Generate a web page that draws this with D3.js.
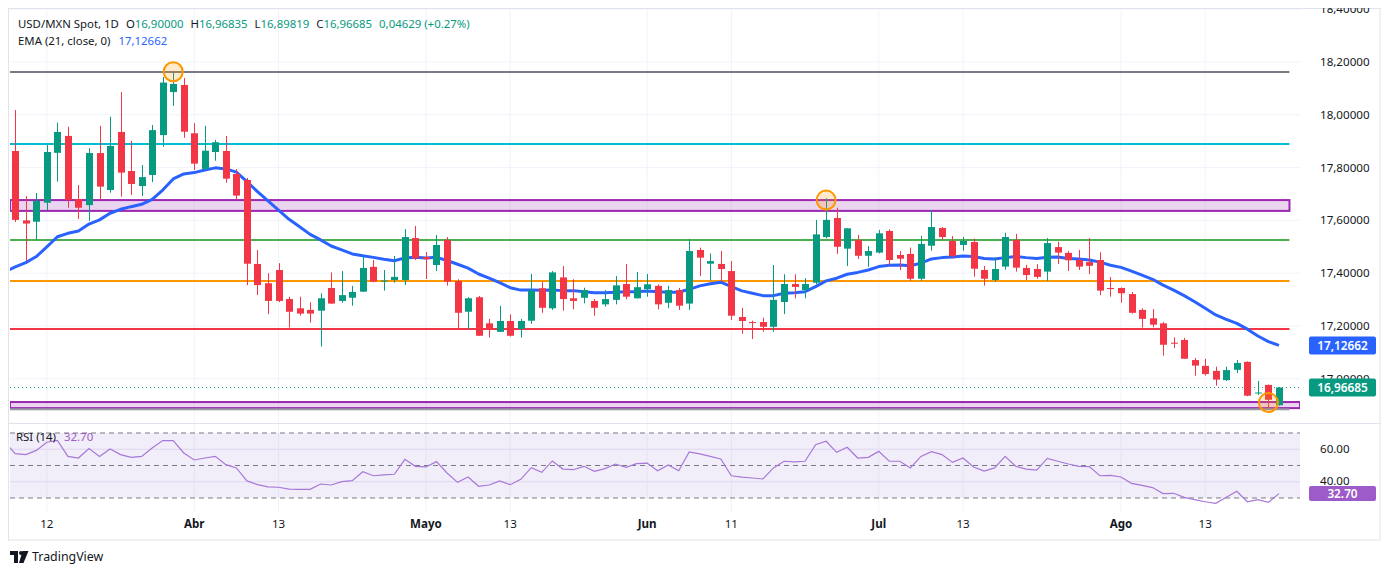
<!DOCTYPE html>
<html>
<head>
<meta charset="utf-8">
<script src="https://cdnjs.cloudflare.com/ajax/libs/d3/7.8.5/d3.min.js"></script>
<style>
  body { margin: 0; background: #fff; }
  svg { display: block; }
  text { font-family: "Noto Sans", sans-serif; }
</style>
</head>
<body>
<svg id="chart"></svg>
<script>
// Daily candles (bar index 0 .. 120)
const opens = [
  17.863, 17.600, 17.595, 17.667, 17.856, 17.920, 17.681, 17.658, 17.855, 17.715,
  17.935, 17.787, 17.730, 17.772, 17.923, 18.086, 18.113, 17.930, 17.795, 17.859,
  17.863, 17.776, 17.753, 17.435, 17.362, 17.412, 17.302, 17.267, 17.261, 17.258,
  17.344, 17.295, 17.307, 17.330, 17.424, 17.370, 17.374, 17.374, 17.533, 17.461,
  17.431, 17.526, 17.370, 17.254, 17.309, 17.210, 17.178, 17.219, 17.189, 17.220,
  17.343, 17.267, 17.384, 17.305, 17.307, 17.295, 17.282, 17.299, 17.359, 17.305,
  17.340, 17.352, 17.288, 17.336, 17.285, 17.488, 17.436, 17.435, 17.408, 17.234,
  17.215, 17.215, 17.197, 17.291, 17.359, 17.336, 17.364, 17.537, 17.609, 17.493,
  17.526, 17.466, 17.478, 17.560, 17.469, 17.473, 17.379, 17.504, 17.571, 17.522,
  17.507, 17.518, 17.412, 17.374, 17.425, 17.526, 17.420, 17.416, 17.406, 17.499,
  17.477, 17.450, 17.442, 17.450, 17.344, 17.344, 17.321, 17.261, 17.229, 17.210,
  17.137, 17.147, 17.071, 17.049, 17.030, 16.995, 17.034, 17.064, 16.945, 16.977,
  16.90000
];
const highs = [
  18.018, 17.692, 17.704, 17.886, 17.970, 17.955, 17.734, 17.873, 17.958, 17.993,
  18.086, 17.901, 17.810, 17.961, 18.143, 18.160, 18.139, 17.968, 17.958, 17.905,
  17.920, 17.794, 17.761, 17.488, 17.400, 17.438, 17.311, 17.311, 17.290, 17.324,
  17.403, 17.408, 17.352, 17.463, 17.450, 17.412, 17.465, 17.567, 17.579, 17.480,
  17.545, 17.537, 17.377, 17.309, 17.314, 17.227, 17.276, 17.244, 17.227, 17.397,
  17.368, 17.408, 17.427, 17.377, 17.345, 17.302, 17.336, 17.389, 17.435, 17.405,
  17.397, 17.358, 17.352, 17.344, 17.530, 17.497, 17.475, 17.484, 17.446, 17.269,
  17.220, 17.231, 17.431, 17.396, 17.396, 17.381, 17.602, 17.684, 17.648, 17.571,
  17.545, 17.503, 17.564, 17.566, 17.484, 17.497, 17.541, 17.639, 17.575, 17.541,
  17.537, 17.531, 17.427, 17.459, 17.553, 17.549, 17.432, 17.434, 17.533, 17.519,
  17.484, 17.488, 17.533, 17.479, 17.386, 17.346, 17.329, 17.267, 17.264, 17.215,
  17.157, 17.155, 17.079, 17.076, 17.046, 17.046, 17.071, 17.066, 16.992, 16.978,
  16.96835
];
const lows = [
  17.594, 17.446, 17.526, 17.639, 17.747, 17.648, 17.605, 17.598, 17.677, 17.705,
  17.690, 17.696, 17.692, 17.745, 17.879, 18.034, 17.913, 17.791, 17.791, 17.826,
  17.743, 17.677, 17.355, 17.317, 17.245, 17.290, 17.194, 17.239, 17.213, 17.122,
  17.284, 17.288, 17.277, 17.329, 17.366, 17.334, 17.364, 17.355, 17.450, 17.378,
  17.408, 17.353, 17.188, 17.188, 17.163, 17.156, 17.177, 17.160, 17.156, 17.208,
  17.250, 17.261, 17.258, 17.263, 17.286, 17.239, 17.273, 17.282, 17.301, 17.304,
  17.311, 17.263, 17.267, 17.261, 17.261, 17.389, 17.372, 17.368, 17.223, 17.171,
  17.151, 17.178, 17.178, 17.245, 17.305, 17.305, 17.358, 17.532, 17.473, 17.427,
  17.454, 17.424, 17.475, 17.431, 17.412, 17.371, 17.371, 17.485, 17.526, 17.456,
  17.485, 17.387, 17.353, 17.368, 17.413, 17.406, 17.374, 17.379, 17.371, 17.435,
  17.408, 17.412, 17.397, 17.317, 17.311, 17.288, 17.247, 17.194, 17.195, 17.088,
  17.116, 17.076, 17.012, 17.012, 16.974, 16.992, 17.022, 16.934, 16.939, 16.891,
  16.89819
];
const closes = [
  17.602, 17.588, 17.674, 17.859, 17.935, 17.677, 17.648, 17.855, 17.728, 17.882,
  17.781, 17.738, 17.764, 17.942, 18.122, 18.117, 17.936, 17.815, 17.864, 17.896,
  17.758, 17.694, 17.436, 17.355, 17.295, 17.295, 17.254, 17.247, 17.247, 17.305,
  17.285, 17.317, 17.329, 17.420, 17.368, 17.372, 17.386, 17.537, 17.456, 17.453,
  17.507, 17.368, 17.250, 17.305, 17.163, 17.185, 17.219, 17.163, 17.219, 17.334,
  17.269, 17.403, 17.302, 17.295, 17.336, 17.269, 17.302, 17.354, 17.311, 17.347,
  17.358, 17.282, 17.336, 17.277, 17.484, 17.459, 17.446, 17.416, 17.239, 17.219,
  17.211, 17.197, 17.299, 17.359, 17.348, 17.359, 17.547, 17.602, 17.500, 17.570,
  17.466, 17.484, 17.551, 17.450, 17.455, 17.379, 17.511, 17.575, 17.537, 17.465,
  17.522, 17.417, 17.379, 17.416, 17.537, 17.421, 17.393, 17.386, 17.514, 17.478,
  17.449, 17.425, 17.428, 17.334, 17.340, 17.324, 17.250, 17.227, 17.205, 17.129,
  17.133, 17.076, 17.050, 17.018, 16.997, 17.033, 17.060, 16.936, 16.948, 16.92056,
  16.96685
];

// EMA(21) as drawn on the chart; emaPrev is the bar just left of the visible range
const emaPrev = 17.405;
const ema = [
  17.424, 17.440, 17.463, 17.500, 17.538, 17.551, 17.560, 17.586, 17.602, 17.627,
  17.642, 17.652, 17.661, 17.680, 17.715, 17.757, 17.776, 17.781, 17.791, 17.799,
  17.795, 17.783, 17.747, 17.709, 17.674, 17.639, 17.604, 17.576, 17.547, 17.526,
  17.503, 17.488, 17.473, 17.466, 17.460, 17.453, 17.447, 17.458, 17.460, 17.458,
  17.460, 17.448, 17.434, 17.419, 17.397, 17.381, 17.364, 17.345, 17.336, 17.336,
  17.335, 17.336, 17.334, 17.334, 17.330, 17.326, 17.326, 17.328, 17.330, 17.330,
  17.333, 17.330, 17.328, 17.328, 17.339, 17.352, 17.360, 17.366, 17.349, 17.333,
  17.324, 17.315, 17.315, 17.324, 17.326, 17.330, 17.349, 17.371, 17.381, 17.396,
  17.403, 17.412, 17.425, 17.430, 17.431, 17.428, 17.438, 17.454, 17.459, 17.461,
  17.465, 17.463, 17.456, 17.454, 17.459, 17.463, 17.459, 17.456, 17.460, 17.461,
  17.456, 17.454, 17.450, 17.442, 17.430, 17.422, 17.408, 17.393, 17.377, 17.355,
  17.336, 17.315, 17.292, 17.267, 17.242, 17.225, 17.210, 17.188, 17.162, 17.141,
  17.12662
];

// RSI(14)
const rsiPrev = 64.3;
const rsi = [
  57.3, 56.7, 59.3, 64.3, 65.5, 55.6, 54.6, 60.4, 55.6, 60.2,
  56.7, 55.0, 55.6, 60.8, 65.3, 65.3, 57.7, 53.4, 54.6, 55.6,
  50.5, 48.5, 40.5, 38.2, 36.8, 36.6, 35.5, 35.3, 35.3, 38.6,
  38.0, 40.1, 40.7, 46.2, 43.7, 44.2, 44.6, 53.8, 49.5, 49.1,
  52.4, 45.4, 39.6, 42.9, 37.2, 38.0, 40.5, 38.2, 41.5, 48.7,
  45.8, 52.8, 47.8, 47.4, 49.5, 46.4, 48.1, 50.9, 48.9, 51.1,
  51.5, 46.8, 50.3, 46.8, 58.3, 57.1, 55.6, 54.0, 43.7, 42.9,
  42.3, 41.7, 48.5, 52.6, 52.2, 52.6, 62.8, 64.9, 58.1, 61.2,
  54.6, 55.0, 58.7, 52.6, 52.6, 48.5, 55.6, 58.5, 56.7, 51.9,
  54.6, 49.1, 46.6, 48.5, 55.6, 49.5, 47.8, 47.2, 54.4, 52.6,
  50.9, 49.5, 49.3, 43.7, 43.9, 42.9, 39.0, 37.8, 36.4, 32.7,
  32.9, 30.4, 29.0, 27.7, 26.7, 30.4, 34.1, 27.7, 29.0, 27.3,
  32.70
];

// time axis: bar index of each label
const tickIdx = [3, 17, 25, 39, 47, 60, 68, 82, 90, 105, 113];
const tickText = ["12", "Abr", "13", "Mayo", "13", "Jun", "11", "Jul", "13", "Ago", "13"];
const tickBold = [false, true, false, true, false, true, false, true, false, true, false];

const priceTicks = [18.4, 18.2, 18.0, 17.8, 17.6, 17.4, 17.2, 17.0];
const rsiTicks = [60, 40];

// drawn levels
const levelPrices = [18.162, 17.889, 17.526, 17.370, 17.189, 16.885];
const levelColors = ["#787b86", "#00bcd4", "#4caf50", "#ff9800", "#f23645", "#9598a1"];
const zoneLow = [17.636, 16.889];
const zoneHigh = [17.677, 16.912];
const markIdx = [15, 77, 119];
const markPrice = [18.163, 17.677, 16.91];

// layout
const W = 1388, H = 575;
const left = 10, right = 1300, mainTop = 8, mainBottom = 423, rsiBottom = 512;
const frameRight = 1380, frameBottom = 540;
const UP = "#089981", DOWN = "#f23645", TXT = "#131722", RSI_C = "#9c5bc8";
const FS = 11.4;

const svg = d3.select("#chart").attr("width", W).attr("height", H);

const x = d3.scaleLinear().domain([-0.5, 122]).range([left, right]);
const y = d3.scaleLinear().domain([16.8326, 18.4045]).range([mainBottom, mainTop]);
const yr = d3.scaleLinear().domain([21.38, 76.15]).range([rsiBottom, mainBottom]);

const fmtP = v => d3.format(".5f")(v).replace(".", ",");

svg.append("rect").attr("width", W).attr("height", H).attr("fill", "#fff");

const defs = svg.append("defs");
defs.append("clipPath").attr("id", "mainClip")
  .append("rect").attr("x", left).attr("y", mainTop).attr("width", right - left).attr("height", mainBottom - mainTop);
defs.append("clipPath").attr("id", "rsiClip")
  .append("rect").attr("x", left).attr("y", mainBottom).attr("width", right - left).attr("height", rsiBottom - mainBottom);
defs.append("clipPath").attr("id", "axisClip")
  .append("rect").attr("x", right).attr("y", mainTop).attr("width", frameRight - right).attr("height", frameBottom - mainTop);

// grid
const grid = svg.append("g");
grid.selectAll(".hg").data(priceTicks).join("line")
  .attr("x1", left).attr("x2", right)
  .attr("y1", d => y(d)).attr("y2", d => y(d))
  .attr("stroke", "#f0f3fa");
grid.selectAll(".rg").data(rsiTicks).join("line")
  .attr("x1", left).attr("x2", right)
  .attr("y1", d => yr(d)).attr("y2", d => yr(d))
  .attr("stroke", "#ebe6f5");
grid.selectAll(".vg").data(tickIdx).join("line")
  .attr("x1", d => x(d)).attr("x2", d => x(d))
  .attr("y1", mainTop).attr("y2", rsiBottom)
  .attr("stroke", "#f0f3fa");

// frame and pane separator
svg.append("rect").attr("x", 8.5).attr("y", 8.5)
  .attr("width", frameRight - 8.5).attr("height", frameBottom - 8.5)
  .attr("fill", "none").attr("stroke", "#e0e3eb");
svg.append("line").attr("x1", 8).attr("x2", frameRight)
  .attr("y1", mainBottom + 0.5).attr("y2", mainBottom + 0.5).attr("stroke", "#e0e3eb");

// main pane
const main = svg.append("g").attr("clip-path", "url(#mainClip)");

// zones
zoneLow.forEach((lo, i) => {
  const x2 = i === 0 ? x(121) : right;
  main.append("rect")
    .attr("x", left).attr("y", y(zoneHigh[i]))
    .attr("width", x2 - left).attr("height", y(lo) - y(zoneHigh[i]))
    .attr("fill", "rgba(156,39,176,0.2)")
    .attr("stroke", "#9c27b0").attr("stroke-width", 2);
});

// horizontal levels
main.selectAll(".lvl").data(levelPrices).join("line")
  .attr("x1", left).attr("x2", x(121))
  .attr("y1", d => y(d)).attr("y2", d => y(d))
  .attr("stroke", (d, i) => levelColors[i]).attr("stroke-width", 2);

// last price dotted line
const last = opens.length - 1;
main.append("line")
  .attr("x1", left).attr("x2", right)
  .attr("y1", y(closes[last])).attr("y2", y(closes[last]))
  .attr("stroke", UP).attr("stroke-dasharray", "1,3");

// EMA (starts one bar left of the view so it reaches the pane edge)
const emaPts = [[-1, emaPrev]].concat(ema.map((v, i) => [i, v]));
main.append("path").datum(emaPts)
  .attr("fill", "none").attr("stroke", "#2962ff").attr("stroke-width", 3)
  .attr("stroke-linejoin", "round")
  .attr("d", d3.line().x(d => x(d[0])).y(d => y(d[1])));

// candles
const bars = d3.range(opens.length);
const bodyW = 7;
const cg = main.append("g");
cg.selectAll(".wick").data(bars).join("line")
  .attr("x1", i => Math.round(x(i)) + 0.5).attr("x2", i => Math.round(x(i)) + 0.5)
  .attr("y1", i => y(highs[i])).attr("y2", i => y(lows[i]))
  .attr("stroke", i => closes[i] >= opens[i] ? UP : DOWN);
cg.selectAll(".body").data(bars).join("rect")
  .attr("x", i => Math.round(x(i)) + 0.5 - bodyW / 2)
  .attr("y", i => y(Math.max(opens[i], closes[i])))
  .attr("width", bodyW)
  .attr("height", i => Math.max(1, Math.abs(y(opens[i]) - y(closes[i]))))
  .attr("fill", i => closes[i] >= opens[i] ? UP : DOWN);

// highlight circles
main.selectAll(".mark").data(markIdx).join("circle")
  .attr("cx", d => x(d)).attr("cy", (d, i) => y(markPrice[i]))
  .attr("r", 9.5)
  .attr("fill", "rgba(255,152,0,0.2)").attr("stroke", "#ff9800").attr("stroke-width", 2);

// RSI pane
const rp = svg.append("g").attr("clip-path", "url(#rsiClip)");
rp.append("rect").attr("x", left).attr("width", right - left)
  .attr("y", yr(70)).attr("height", yr(30) - yr(70))
  .attr("fill", "rgba(126,87,194,0.1)");
rp.selectAll(".band").data([70, 50, 30]).join("line")
  .attr("x1", left).attr("x2", right)
  .attr("y1", d => yr(d)).attr("y2", d => yr(d))
  .attr("stroke", "#787b86").attr("stroke-dasharray", "5,4");
const rsiPts = [[-1, rsiPrev]].concat(rsi.map((v, i) => [i, v]));
rp.append("path").datum(rsiPts)
  .attr("fill", "none").attr("stroke", "#a678d8").attr("stroke-width", 1.2)
  .attr("d", d3.line().x(d => x(d[0])).y(d => yr(d[1])));

// price axis
const ax = svg.append("g").attr("clip-path", "url(#axisClip)");
ax.selectAll(".pt").data(priceTicks).join("text")
  .attr("x", 1320).attr("y", d => y(d)).attr("dy", "0.35em")
  .attr("font-size", 11.6).attr("fill", TXT)
  .text(d => fmtP(d));
ax.selectAll(".rt").data(rsiTicks).join("text")
  .attr("x", 1320).attr("y", (d, i) => yr(d) - (i === 1 ? 1 : 0)).attr("dy", "0.35em")
  .attr("font-size", 11.6).attr("fill", TXT)
  .text(d => d3.format(".2f")(d));

function axisLabel(yy, txt, color, h) {
  ax.append("rect").attr("x", 1309).attr("y", yy - h / 2).attr("width", 67).attr("height", h)
    .attr("rx", 2).attr("fill", color);
  ax.append("text").attr("x", 1342.5).attr("y", yy).attr("dy", "0.35em")
    .attr("text-anchor", "middle").attr("font-size", 11.8).attr("font-weight", 600)
    .attr("fill", "#fff").text(txt);
}
axisLabel(y(ema[last]), fmtP(ema[last]), "#2962ff", 18);
axisLabel(y(closes[last]), fmtP(closes[last]), UP, 18);
axisLabel(yr(rsi[last]), d3.format(".2f")(rsi[last]), RSI_C, 15);

// time axis
svg.selectAll(".tt").data(tickIdx).join("text")
  .attr("x", d => x(d)).attr("y", 524).attr("dy", "0.35em")
  .attr("text-anchor", "middle").attr("font-size", 11.6)
  .attr("font-weight", (d, i) => tickBold[i] ? 700 : 400)
  .attr("fill", TXT)
  .text((d, i) => tickText[i]);

// legends
const head = svg.append("text").attr("x", 18).attr("y", 24).attr("dy", "0.35em")
  .attr("font-size", FS).attr("fill", TXT);
head.append("tspan").text("USD/MXN Spot, 1D");
[["O", opens[last]], ["H", highs[last]], ["L", lows[last]], ["C", closes[last]]].forEach(([k, v]) => {
  head.append("tspan").attr("dx", 7).text(k);
  head.append("tspan").attr("fill", UP).text(fmtP(v));
});
const chg = closes[last] - closes[last - 1];
head.append("tspan").attr("dx", 7).attr("fill", UP)
  .text(fmtP(chg) + " (+" + d3.format(".2f")(chg / closes[last - 1] * 100) + "%)");

const emaLeg = svg.append("text").attr("x", 18).attr("y", 41).attr("dy", "0.35em")
  .attr("font-size", FS).attr("fill", TXT);
emaLeg.append("tspan").text("EMA (21, close, 0)");
emaLeg.append("tspan").attr("dx", 8).attr("fill", "#2962ff").text(fmtP(ema[last]));

const rsiLeg = svg.append("text").attr("x", 16).attr("y", 437).attr("dy", "0.35em")
  .attr("font-size", FS).attr("fill", TXT);
rsiLeg.append("tspan").text("RSI (14)");
rsiLeg.append("tspan").attr("dx", 8).attr("fill", RSI_C).text(d3.format(".2f")(rsi[last]));

// TradingView mark
const logo = svg.append("g").attr("fill", TXT);
logo.append("path").attr("d", "M10,551 h8 v12 h-4 v-8 h-4 z");
logo.append("circle").attr("cx", 21).attr("cy", 553).attr("r", 2);
logo.append("path").attr("d", "M22.5,551 h6 l-5,12 h-4.5 z");
svg.append("text").attr("x", 32).attr("y", 557).attr("dy", "0.35em")
  .attr("font-size", 12.4).attr("fill", TXT).text("TradingView");
</script>
</body>
</html>
